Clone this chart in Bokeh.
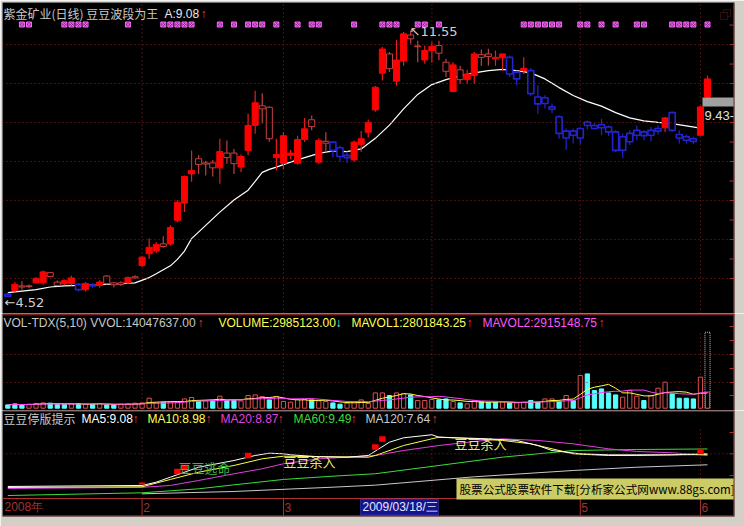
import numpy as np
import pandas as pd
from bokeh.plotting import figure
from bokeh.layouts import column
from bokeh.models import (Range1d, Span, Label, BoxAnnotation, ColumnDataSource)
from bokeh.embed import file_html
from bokeh.resources import INLINE

# ---------------------------------------------------------------- data
stock_title = "紫金矿业(日线) 豆豆波段为王"
bars = list(range(100))

opens = [4.58, 4.68, 4.77, 4.78, 4.88, 4.88, 5.05, 4.81, 4.86, 4.86,
         4.84, 4.70, 4.82, 4.81, 4.86, 4.83, 4.84, 4.88, 5.01, 5.34,
         5.65, 5.72, 5.84, 5.91, 6.53, 6.99, 7.76, 8.01, 8.02, 7.92,
         7.92, 8.19, 8.03, 7.94, 8.38, 9.04, 9.48, 9.52, 8.19, 8.04,
         8.25, 8.04, 8.67, 9.01, 8.07, 8.57, 8.60, 8.45, 8.25, 8.13,
         8.54, 8.86, 9.45, 10.42, 10.54, 10.21, 10.74, 11.33, 11.12, 10.77,
         11.02, 10.95, 10.47, 9.94, 10.25, 10.25, 10.36, 10.84, 10.86, 10.80,
         10.83, 10.84, 10.45, 10.49, 10.49, 9.79, 9.77, 9.53, 9.27, 8.89,
         8.89, 8.96, 9.13, 9.04, 9.06, 9.00, 8.87, 8.74, 8.83, 8.91,
         8.87, 8.91, 8.96, 8.98, 9.38, 8.80, 8.74, 8.69, 8.78, 9.79]
highs = [4.62, 4.90, 4.92, 4.84, 5.03, 5.21, 5.17, 4.94, 4.97, 5.07,
         4.87, 4.90, 4.87, 4.95, 5.08, 4.90, 4.92, 5.05, 5.08, 5.58,
         6.05, 5.95, 6.11, 6.40, 7.06, 7.72, 8.38, 8.25, 8.11, 8.13,
         8.69, 8.64, 8.42, 8.27, 9.35, 9.96, 9.89, 9.55, 8.69, 8.86,
         8.40, 8.77, 9.24, 9.30, 8.70, 8.86, 8.60, 8.51, 8.35, 8.64,
         8.89, 9.20, 10.08, 11.11, 10.98, 11.30, 11.51, 11.55, 11.28, 11.15,
         11.25, 11.28, 10.80, 10.71, 10.62, 10.51, 10.98, 11.05, 11.07, 11.02,
         10.93, 10.89, 10.49, 10.84, 10.56, 10.10, 9.84, 9.62, 9.31, 8.96,
         8.96, 8.99, 9.17, 9.10, 9.22, 9.04, 8.91, 8.83, 8.91, 9.04,
         8.91, 9.00, 9.04, 9.26, 9.41, 8.91, 8.80, 8.74, 9.55, 10.36]
lows = [4.52, 4.63, 4.70, 4.74, 4.86, 4.83, 5.03, 4.79, 4.82, 4.81,
        4.65, 4.65, 4.75, 4.75, 4.84, 4.76, 4.80, 4.85, 4.98, 5.30,
        5.52, 5.67, 5.81, 5.87, 6.48, 6.75, 7.55, 7.76, 7.72, 7.69,
        7.50, 8.03, 7.76, 7.81, 8.25, 8.82, 9.09, 8.61, 7.85, 7.89,
        8.15, 8.00, 8.60, 8.91, 8.02, 8.33, 8.19, 8.08, 8.05, 8.08,
        8.34, 8.72, 9.40, 10.23, 10.45, 10.09, 10.62, 11.20, 10.71, 10.67,
        10.70, 10.76, 10.32, 9.92, 10.14, 10.14, 10.14, 10.62, 10.62, 10.62,
        10.49, 10.32, 10.10, 10.40, 9.82, 9.35, 9.49, 9.36, 8.69, 8.39,
        8.56, 8.54, 8.93, 8.93, 8.78, 8.76, 8.33, 8.17, 8.52, 8.65,
        8.65, 8.62, 8.80, 8.87, 8.87, 8.56, 8.56, 8.54, 8.78, 9.75]
closes = [4.53, 4.84, 4.80, 4.80, 5.00, 5.17, 5.15, 4.90, 4.94, 5.01,
          4.70, 4.86, 4.80, 4.90, 5.06, 4.88, 4.88, 5.02, 5.04, 5.56,
          5.82, 5.89, 5.91, 6.34, 7.01, 7.69, 7.85, 8.16, 8.05, 8.05,
          8.35, 8.31, 8.31, 8.22, 9.04, 9.64, 9.56, 8.69, 8.27, 8.77,
          8.31, 8.67, 8.95, 9.19, 8.64, 8.62, 8.38, 8.22, 8.19, 8.60,
          8.69, 9.12, 10.05, 11.06, 10.93, 10.77, 11.46, 11.43, 11.14, 11.02,
          11.13, 11.15, 10.71, 10.64, 10.51, 10.40, 10.93, 10.91, 10.93, 10.84,
          10.93, 10.40, 10.27, 10.55, 9.88, 9.61, 9.62, 9.47, 8.83, 8.71,
          8.78, 8.71, 9.04, 8.96, 8.98, 8.87, 8.38, 8.38, 8.61, 8.78,
          8.77, 8.78, 8.89, 9.24, 8.91, 8.71, 8.65, 8.62, 9.53, 10.27]
# indicator colouring of each candle: R solid red, H hollow red, B blue
candle_kind = ("BRHHRRHHRR" "BRBRHHHRHR" "RRHRRRRHHH" "RHHRRRHHRR"
               "RRRHRHBBBR" "RRRRHRRHHR" "RHHRHRRHHR" "RBBRBBBBBB"
               "BBBBBBBBBB" "BBBRBBBBRR")
# bars where the indicator prints its magenta marker at the top
marker_bars = [2, 3, 8, 9, 10, 11, 17, 22, 23, 24, 25, 26, 30, 32, 34, 35, 36,
               38, 41, 43, 44, 49, 53, 54, 55, 58, 59, 61, 73, 74, 75, 76, 77,
               78, 81, 82, 84, 86, 89, 90, 94, 95, 96, 97, 99]
# white moving average in the price pane
ma_bars = [0, 4, 6, 8, 13, 18, 20, 21, 23, 24, 25, 26, 28, 30, 32, 34, 35, 36,
           37, 38, 40, 42, 44, 46, 48, 50, 52, 54, 56, 58, 60, 62, 64, 66, 68,
           70, 72, 74, 76, 78, 80, 82, 84, 86, 88, 90, 92, 94, 96, 98]
ma_line = [4.62, 4.70, 4.77, 4.80, 4.83, 4.88, 5.02, 5.12, 5.33, 5.50, 5.72,
           6.05, 6.40, 6.75, 7.07, 7.33, 7.56, 7.80, 7.88, 7.94, 8.07, 8.19,
           8.30, 8.37, 8.35, 8.42, 8.70, 9.05, 9.48, 9.86, 10.12, 10.25, 10.35,
           10.43, 10.49, 10.52, 10.49, 10.43, 10.27, 10.04, 9.83, 9.67, 9.55,
           9.38, 9.24, 9.16, 9.12, 9.09, 9.03, 8.97]

# volume (10k shares) and up/down flag used for its colour
volumes = [61, 80, 61, 74, 87, 98, 93, 68, 68, 80,
           87, 74, 74, 87, 61, 61, 74, 80, 93, 98,
           185, 98, 111, 111, 111, 172, 198, 130, 135, 142,
           222, 142, 142, 135, 235, 246, 216, 154, 216, 124,
           111, 161, 161, 154, 135, 124, 98, 74, 93, 111,
           154, 87, 283, 283, 235, 283, 265, 246, 142, 142,
           161, 154, 172, 124, 98, 80, 142, 124, 111, 111,
           111, 98, 98, 111, 142, 111, 172, 172, 124, 235,
           142, 605, 635, 327, 357, 283, 246, 204, 327, 222,
           142, 235, 370, 481, 265, 185, 185, 172, 574, 298.5123]
vol_dir = ("cccrrrcccr" "crcrccrrrr" "rrcrrrrcrc" "rccrrrrcrr"
           "rrrcrrccrr" "rrrrcrrcrr" "rccrcrrccc" "rcrrccrrcr"
           "crcccccrrr" "crrrccccrr")
vvol_last = 1404.7637

# lower pane moving averages (sampled bars, values)
ma5_bars = [0, 19, 21, 23, 27, 32, 35, 37, 39, 40, 44, 48, 51, 54, 56, 60, 61,
            68, 72, 75, 77, 81, 85, 89, 94, 99]
ma5_vals = [4.89, 5.02, 5.44, 6.08, 7.36, 8.22, 8.86, 9.16, 9.08, 8.95, 8.70,
            8.64, 8.86, 10.57, 11.13, 11.52, 11.21, 11.00, 10.79, 10.14, 9.50,
            9.08, 8.95, 8.95, 8.95, 9.08]
ma10_bars = [0, 19, 23, 27, 32, 36, 39, 51, 52, 56, 60, 61, 66, 70, 74, 77, 80,
             85, 89, 94, 99]
ma10_vals = [4.76, 4.85, 5.79, 6.72, 7.58, 8.44, 8.77, 8.64, 8.86, 10.14,
             11.00, 11.21, 11.00, 10.79, 10.36, 9.72, 9.08, 8.86, 8.86, 8.95, 8.98]
ma20_bars = [0, 19, 23, 27, 32, 36, 39, 44, 52, 56, 61, 66, 70, 75, 80, 85, 89,
             94, 99]
ma20_vals = [4.63, 4.78, 5.02, 5.66, 6.52, 7.16, 7.80, 8.44, 8.86, 9.50, 10.14,
             10.66, 11.00, 10.79, 10.36, 9.72, 9.38, 9.21, 8.87]
ma60_bars = [0, 19, 27, 32, 39, 46, 52, 61, 70, 80, 89, 99]
ma60_vals = [3.73, 4.08, 4.59, 5.10, 5.79, 6.21, 6.52, 7.58, 8.65, 9.50, 9.63, 9.70]
ma120_bars = [19, 32, 46, 52, 66, 80, 89, 99]
ma120_vals = [3.95, 4.25, 4.80, 5.06, 6.13, 6.94, 7.36, 7.67]
signal_bars = [24, 25, 34, 52, 53, 98]
signal_vals = [6.81, 7.32, 8.86, 9.95, 10.97, 9.37]
warn_bars = [19]
warn_vals = [5.27]
month_bars = [19, 39, 60, 81, 98]
axis_texts = ["2008年", "2", "3", "5", "6"]

# ---------------------------------------------------------------- helpers
W = 744
BG = "#000000"
FRAME = "#d4d0c8"
GRID = "#8c2424"
AXR = "#b03030"
XR = Range1d(-0.75, 102.82)
PX = 1 / 7.068          # one pixel in bar units

def xi(px):            # reference pixel -> bar index
    return (px - 7.3) / 7.068

def py(px):            # price pane
    return 12.342 - px * 0.026427

def vy(px):            # volume pane (10k shares)
    return (407.7 - px) * 18.5

def my(px):            # MA pane
    return 67.195 - px * 0.128205


def make_fig(h, yr, top=0, bottom=0):
    p = figure(width=W, height=h, x_range=XR, y_range=yr, output_backend="svg",
               toolbar_location=None, x_axis_location=None, y_axis_location=None,
               min_border_left=2, min_border_right=10, min_border_top=top,
               min_border_bottom=bottom, background_fill_color=BG,
               border_fill_color=FRAME, outline_line_color=None)
    p.grid.visible = False
    return p


def right_axis(p, ticks):
    # axis line on the right frame edge with short inward ticks
    p.add_layout(Span(location=XR.end - 0.6 * PX, dimension="height",
                      line_color=AXR, line_width=1))
    t = list(ticks)
    p.segment(x0=[XR.end - 5 * PX] * len(t), x1=[XR.end] * len(t), y0=t, y1=t,
              line_color=AXR, line_width=1)


def lab(p, x, y, text, color, size="12px", font="Liberation Sans",
        align="left", baseline="middle"):
    p.add_layout(Label(x=x, y=y, text=text, text_color=color,
                       text_font_size=size, text_font=font, text_align=align,
                       text_baseline=baseline))


def hspan(p, loc, color=GRID, dash="1 3"):
    p.add_layout(Span(location=loc, dimension="width", line_color=color,
                      line_dash=dash, line_width=1))

# ---------------------------------------------------------------- price pane
pA = make_fig(313, Range1d(py(313), py(2)), top=2)
step = 1.0305
levels = 4.995 + step * np.arange(7)
for v in levels:
    hspan(pA, v)
pA.segment(x0=month_bars, x1=month_bars, y0=py(313), y1=py(2),
           line_color=GRID, line_dash="1 3")

pA.line(ma_bars, ma_line, line_color="#ffffff", line_width=1.2)

o = np.array(opens); c = np.array(closes)
hi = np.array(highs); lo = np.array(lows)
top = np.maximum(o, c); bot = np.minimum(o, c)
kinds = list(candle_kind)
wick_col = {"R": "#e81c1c", "H": "#c04040", "B": "#2323d2"}
body_fill = {"R": "#ff0000", "H": "#000000", "B": "#000000"}
body_line = {"R": "#ff0000", "H": "#c84040", "B": "#2323d2"}
body_lw = {"R": 1.0, "H": 1.0, "B": 1.6}
src = ColumnDataSource(dict(
    x=bars, top=top, bot=bot, hi=hi, lo=lo,
    wc=[wick_col[k] for k in kinds],
    fc=[body_fill[k] for k in kinds],
    lc=[body_line[k] for k in kinds],
    lw=[body_lw[k] for k in kinds]))
pA.segment(x0="x", x1="x", y0="top", y1="hi", line_color="wc", source=src, line_width=1.2)
pA.segment(x0="x", x1="x", y0="lo", y1="bot", line_color="wc", source=src, line_width=1.2)
pA.vbar(x="x", top="top", bottom="bot", width=0.86, fill_color="fc",
        line_color="lc", line_width="lw", source=src)

pA.scatter(x=marker_bars, y=[py(24)] * len(marker_bars), marker="square_x",
           size=5, fill_color="#9a189a", line_color="#f070f0", line_width=1)

# extreme labels / last price tag
lab(pA, xi(409), max(highs) - 0.04, "↖" + f"{max(highs):.2f}", "#d0d0d0", size="13px",
    font="DejaVu Sans")
lab(pA, xi(4), min(lows) - 0.15, "←" + f"{min(lows):.2f}", "#d0d0d0", size="13px",
    font="DejaVu Sans")
pA.add_layout(BoxAnnotation(left=xi(702), right=XR.end, top=py(97), bottom=py(106),
                            fill_color="#a0a0a0", fill_alpha=1, line_color=None))
lab(pA, xi(704), 9.43, "9.43-", "#e0e0e0", size="13px", baseline="top")
# window restore icon
pA.add_layout(BoxAnnotation(left=xi(723), right=xi(730), top=py(9), bottom=py(16),
                            fill_alpha=0, line_color="#a03030", line_width=1))
pA.add_layout(BoxAnnotation(left=xi(720), right=xi(727), top=py(12), bottom=py(19),
                            fill_color="#000000", fill_alpha=1, line_color="#a03030",
                            line_width=1))

# title
lab(pA, xi(3), py(13), stock_title, "#c8c8c8", font="Noto Sans CJK SC")
lab(pA, xi(164), py(13), "A:9.08", "#e8e8e8")
lab(pA, xi(200), py(13), "↑", "#ff3c3c")
right_axis(pA, np.concatenate([levels, levels + step / 2]))

# ---------------------------------------------------------------- volume pane
pB = make_fig(97, Range1d(vy(410), vy(313)))
hspan(pB, vy(314.3), color=AXR, dash="solid")
for v in (vy(382), vy(354)):
    hspan(pB, v)
pB.segment(x0=month_bars, x1=month_bars, y0=vy(410), y1=vy(330),
           line_color=GRID, line_dash="1 3")

vdir = list(vol_dir)
vsrc = ColumnDataSource(dict(
    x=bars, v=volumes,
    fc=["#54ffff" if d == "c" else "#000000" for d in vdir],
    lc=["#54ffff" if d == "c" else "#e05050" for d in vdir]))
pB.vbar(x=bars[-1], top=vvol_last, bottom=0, width=0.72, fill_alpha=0,
        line_color="#c8c8c8", line_dash="1 1")
pB.vbar(x="x", top="v", bottom=0, width=0.6, fill_color="fc", line_color="lc",
        source=vsrc)
vs = pd.Series(volumes)
pB.line(bars, vs.rolling(5, min_periods=1).mean(), line_color="#ffff40", line_width=1)
pB.line(bars, vs.rolling(10, min_periods=1).mean(), line_color="#ff40ff", line_width=1)

yB = vy(322)
lab(pB, xi(3), yB, "VOL-TDX(5,10) VVOL:14047637.00", "#c8c8c8")
lab(pB, xi(197), yB, "↑", "#ff3c3c")
lab(pB, xi(218), yB, "VOLUME:2985123.00", "#ffff54")
lab(pB, xi(335), yB, "↓", "#54ffff")
lab(pB, xi(351), yB, "MAVOL1:2801843.25", "#ffff54")
lab(pB, xi(466), yB, "↑", "#ff3c3c")
lab(pB, xi(482), yB, "MAVOL2:2915148.75", "#ff54ff")
lab(pB, xi(598), yB, "↑", "#ff3c3c")
right_axis(pB, [vy(v) for v in (395, 382, 368, 354, 340, 326)])

# ---------------------------------------------------------------- MA pane
pC = make_fig(116, Range1d(my(516), my(410)), bottom=10)
hspan(pC, my(410.6), color=AXR, dash="solid")
hspan(pC, my(453.3))
hspan(pC, my(498), color=AXR, dash="solid")
hspan(pC, my(515.4), color=AXR, dash="solid")
pC.segment(x0=month_bars, x1=month_bars, y0=my(498), y1=my(426),
           line_color=GRID, line_dash="1 3")
pC.segment(x0=month_bars, x1=month_bars, y0=my(516), y1=my(498),
           line_color=AXR, line_width=1)

pC.line(ma120_bars, ma120_vals, line_color="#c8c8c8", line_width=1)
pC.line(ma60_bars, ma60_vals, line_color="#3cdc3c", line_width=1)
pC.line(ma20_bars, ma20_vals, line_color="#e040e0", line_width=1)
pC.line(ma10_bars, ma10_vals, line_color="#ffff40", line_width=1)
pC.line(ma5_bars, ma5_vals, line_color="#ffffff", line_width=1)
pC.rect(x=signal_bars, y=signal_vals, width=6.5, height=5.5, width_units="screen",
        height_units="screen", fill_color="#ff0000", line_color=None)
pC.rect(x=warn_bars, y=warn_vals, width=6.5, height=1.8, width_units="screen",
        height_units="screen", fill_color="#ff0000", line_color=None)

lab(pC, xi(178), my(467), "豆豆逃命", "#3cb43c", size="13px", font="Noto Sans CJK SC")
lab(pC, xi(283), my(460.5), "豆豆杀入", "#e6e66e", size="13px", font="Noto Sans CJK SC")
lab(pC, xi(454), my(443.3), "豆豆杀入", "#e6e66e", size="13px", font="Noto Sans CJK SC")

yC = my(418)
lab(pC, xi(3), yC, "豆豆停版提示", "#c8c8c8", font="Noto Sans CJK SC")
lab(pC, xi(81), yC, "MA5:9.08", "#ffffff")
lab(pC, xi(132), yC, "↑", "#ff3c3c")
lab(pC, xi(147), yC, "MA10:8.98", "#ffff54")
lab(pC, xi(205), yC, "↑", "#ff3c3c")
lab(pC, xi(220), yC, "MA20:8.87", "#e040e0")
lab(pC, xi(277), yC, "↑", "#ff3c3c")
lab(pC, xi(293), yC, "MA60:9.49", "#3cdc3c")
lab(pC, xi(350), yC, "↑", "#ff3c3c")
lab(pC, xi(365), yC, "MA120:7.64", "#c8c8c8")
lab(pC, xi(431), yC, "↑", "#ff3c3c")

# time axis row
axis_pos = [xi(4), month_bars[0] + 0.15, month_bars[1] + 0.15,
            month_bars[3] + 0.15, month_bars[4] + 0.15]
for t, xp in zip(axis_texts, axis_pos):
    lab(pC, xp, my(506.5), t, "#a83030", size="12px")
pC.add_layout(BoxAnnotation(left=xi(360), right=xi(438), top=my(498.5), bottom=my(514.5),
                            fill_color="#14148c", fill_alpha=1, line_color="#6a6aff",
                            line_width=1))
lab(pC, xi(362), my(506.5), "2009/03/18/三", "#e6e6ff", size="12px")

# watermark strip
pC.add_layout(BoxAnnotation(left=xi(456), right=XR.end, top=my(478), bottom=my(499),
                            fill_color="#cccc66", fill_alpha=1, line_color=None))
lab(pC, xi(459), my(488.5), "股票公式股票软件下载[分析家公式网www.88gs.com]",
    "#000000", size="11.6px", font="Noto Sans CJK SC")
right_axis(pC, [my(v) for v in (432, 453.3, 475)])

layout = column(pA, pB, pC, spacing=0)
open("out.html", "w").write(file_html(layout, INLINE))
